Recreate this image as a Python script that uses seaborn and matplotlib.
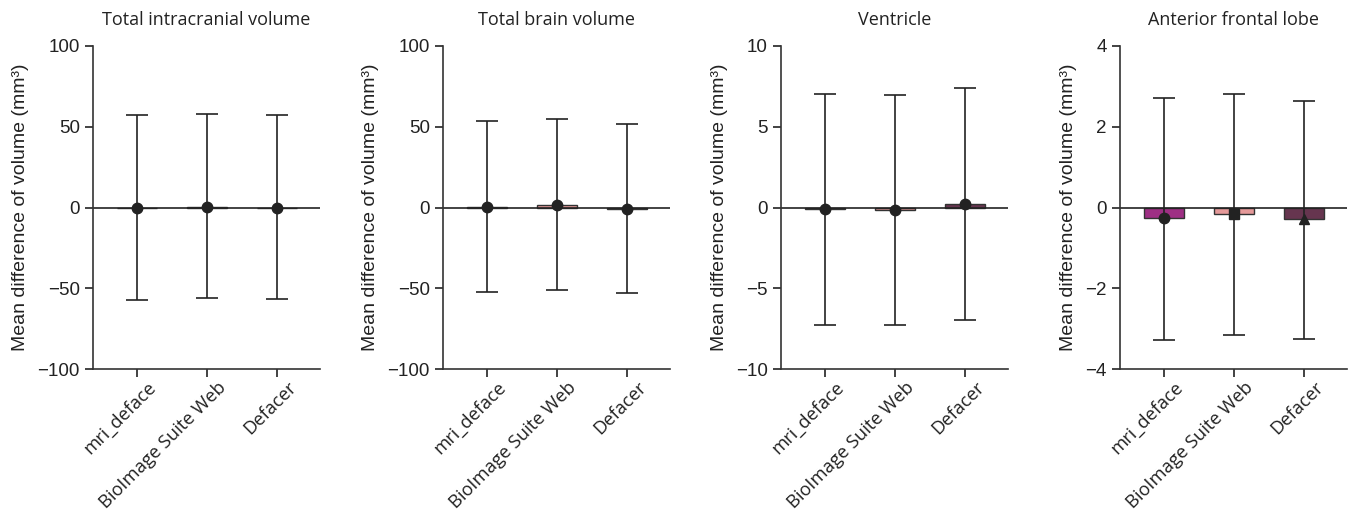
import numpy as np
import pandas as pd
import seaborn as sns
import matplotlib.pyplot as plt
from matplotlib.transforms import ScaledTranslation

methods = ["mri_deface", "BioImage Suite Web", "Defacer"]
colors = ["#b01c8e", "#f28c8c", "#6e2d50"]

titles = ["Total intracranial volume", "Total brain volume", "Ventricle", "Anterior frontal lobe"]

tiv_mean = [-0.2, 0.6, -0.2]
tiv_lower = [-57.0, -56.0, -56.5]
tiv_upper = [57.5, 58.0, 57.5]

tbv_mean = [0.4, 1.5, -1.0]
tbv_lower = [-52.5, -51.0, -53.0]
tbv_upper = [53.5, 54.5, 51.5]

vent_mean = [-0.12, -0.18, 0.22]
vent_lower = [-7.3, -7.3, -6.95]
vent_upper = [7.0, 6.95, 7.4]

afl_mean = [-0.27, -0.17, -0.28]
afl_lower = [-3.27, -3.17, -3.25]
afl_upper = [2.72, 2.8, 2.65]

means = [tiv_mean, tbv_mean, vent_mean, afl_mean]
lowers = [tiv_lower, tbv_lower, vent_lower, afl_lower]
uppers = [tiv_upper, tbv_upper, vent_upper, afl_upper]
ylims = [(-100, 100), (-100, 100), (-10, 10), (-4, 4)]
yticks = [[-100, -50, 0, 50, 100], [-100, -50, 0, 50, 100], [-10, -5, 0, 5, 10], [-4, -2, 0, 2, 4]]
markers = [["o", "o", "o"], ["o", "o", "o"], ["o", "o", "o"], ["o", "s", "^"]]

sns.set_style("ticks")
plt.rcParams["font.family"] = ["Liberation Sans", "DejaVu Sans"]
plt.rcParams["axes.linewidth"] = 1.2
plt.rcParams["axes.edgecolor"] = "#333333"

fig = plt.figure(figsize=(13.48, 5.14), dpi=100)
lefts = [93, 443, 781, 1120]
ink = "#222222"
shift = ScaledTranslation(10 / 100, 4 / 100, fig.dpi_scale_trans)

for i in range(4):
    ax = fig.add_axes([lefts[i] / 1348, 1 - 369 / 514, 227 / 1348, (369 - 46) / 514])
    df = pd.DataFrame({"method": methods, "mean": means[i]})
    sns.barplot(data=df, x="method", y="mean", hue="method", palette=colors,
                width=0.57, edgecolor="#333333", linewidth=1, errorbar=None,
                legend=False, ax=ax, zorder=2)
    m = np.array(means[i])
    lo = m - np.array(lowers[i])
    hi = np.array(uppers[i]) - m
    ax.errorbar(np.arange(3), m, yerr=[lo, hi], fmt="none", ecolor=ink,
                elinewidth=1.2, capsize=8, capthick=1.2, zorder=3)
    for j in range(3):
        ax.plot(j, m[j], marker=markers[i][j], color=ink, markersize=7.5, zorder=4)
    ax.axhline(0, color=ink, lw=1.2, zorder=2.5)
    ax.set_xlim(-0.63, 2.61)
    ax.set_ylim(*ylims[i])
    ax.set_yticks(yticks[i])
    ax.set_yticklabels(["\u2212" + str(abs(v)) if v < 0 else str(v) for v in yticks[i]])
    ax.set_title(titles[i], fontsize=13, family=["Open Sans", "DejaVu Sans"], pad=15, color=ink)
    ax.set_xlabel("")
    ax.set_ylabel("Mean difference of volume (mm\u00b3)", fontsize=14, color=ink, labelpad=6)
    ax.tick_params(axis="both", labelsize=13.5, colors=ink, length=6, width=1.2)
    ax.set_xticks(range(3))
    ax.set_xticklabels(methods, rotation=45, ha="right", rotation_mode="anchor",
                       family=["Open Sans", "DejaVu Sans"], fontsize=13.2)
    for lab in ax.get_xticklabels():
        lab.set_transform(lab.get_transform() + shift)
    sns.despine(ax=ax)

fig.savefig("out.png", dpi=100)
